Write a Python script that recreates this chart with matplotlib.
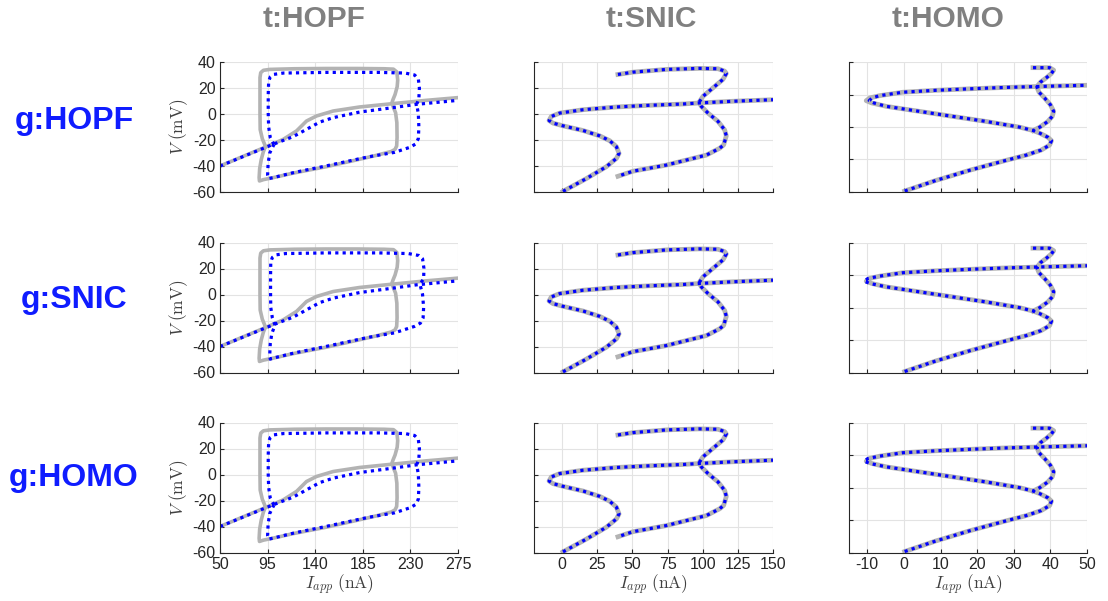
import matplotlib
matplotlib.use("Agg")
import matplotlib.pyplot as plt

plt.rcParams['font.family'] = ['Liberation Sans', 'DejaVu Sans']
plt.rcParams['mathtext.fontset'] = 'cm'
plt.rcParams['axes.unicode_minus'] = False

# column / row names
col_titles = ['t:HOPF', 't:SNIC', 't:HOMO']
row_titles = ['g:HOPF', 'g:SNIC', 'g:HOMO']

# --- t:HOPF column (I_app in nA, V in mV) ---
hopf_eq_gray_x = [50, 94, 109.8, 122.4, 131.8, 141.3, 157, 182, 213.6, 245, 275]
hopf_eq_gray_y = [-40, -25.1, -19.5, -13, -5.4, -1.5, 2.3, 5.4, 8, 10.5, 12.6]
hopf_cyc_gray_x = [93, 90, 88, 87.8, 87.8, 87.8, 88.5, 91, 97, 120, 150, 180, 205, 214, 217.2,
                   218, 217.5, 215.5, 213.5, 212.5, 214, 216, 217.2, 217.4, 217, 215.5, 212,
                   197.9, 182, 150.7, 119, 100, 91, 87.3, 87, 87.5, 89, 91, 93]
hopf_cyc_gray_y = [-25, -19, -12, 0, 15, 28, 31.8, 33.6, 34.3, 34.8, 35, 35, 34.8, 34.5, 32.3,
                   26, 21, 15, 11, 8.5, 5, 1, -6.7, -18, -24.6, -27.2, -28.8,
                   -31.8, -34.8, -40.5, -45.5, -49, -50.5, -51.5, -49, -42, -35, -29, -25]
hopf_eq_blue_x = [50, 100.3, 119.2, 131.8, 144.4, 157, 182, 213.6, 235.6, 275]
hopf_eq_blue_y = [-40, -23.3, -17.4, -11.8, -6.2, -2.8, 1.5, 4.9, 7.4, 10.5]
hopf_cyc_blue1_x = [101, 97.5, 96, 95.6, 95.6, 96, 97.5, 101, 110, 150, 200, 225, 234, 237.5,
                    238.5, 238, 236, 237.5, 238, 237.5, 235, 230, 215, 190, 150, 120, 100,
                    96, 95, 95.5, 97, 101]
hopf_cyc_blue1_y = [-23.5, -18, -10, 0, 15, 25, 28.5, 30.5, 31.5, 32, 32, 31.5, 30, 27,
                    20, 12, 7.5, 0, -10, -19, -23, -25.5, -29.5, -33, -40, -45, -49,
                    -49.7, -47, -38, -30, -23.5]
hopf_cyc_blue2_x = [102, 99.5, 98, 97.8, 97.8, 98, 99.5, 103, 112, 150, 200, 228, 238, 241.5,
                    242.8, 242.5, 239, 241.5, 242.5, 242, 239.5, 234, 215, 190, 150, 120, 100,
                    97.5, 97, 97.5, 99, 102]
hopf_cyc_blue2_y = [-23.5, -18, -10, 0, 15, 25, 28.5, 30.5, 31.5, 32, 32, 31.5, 30, 27.5,
                    20, 12, 8, 0, -10, -18, -22, -24.5, -29.5, -33, -40, -45, -49,
                    -49.7, -47, -38, -30, -23.5]

# --- t:SNIC column ---
snic_eq_x = [0.6, 17.2, 31.4, 38.6, 40.5, 38.6, 33.8, 26.7, 14.9, 0.6, -6.5, -9.3, -7.7,
             -1.7, 14.9, 38.6, 62.3, 86, 97.8, 121.5, 150]
snic_eq_y = [-59.5, -49.7, -40.6, -34.2, -30.3, -25.1, -20.5, -16.8, -12.7, -9.1, -7, -5, -1.9,
             0.7, 3.3, 5.4, 6.7, 7.7, 8.5, 9.8, 11]
snic_cyc_x = [39.7, 50.4, 74.1, 97.8, 110.9, 115.6, 116.8, 114.4, 107.3, 100.2, 97.4, 99,
              103.8, 110.9, 115.6, 116.8, 114.9, 112, 102.6, 74.1, 50.4, 39.7]
snic_cyc_y = [30.4, 32.2, 34.3, 35.1, 34.8, 33, 31.2, 26.6, 20.1, 13.6, 9, 5.9,
              0.7, -5.7, -12.2, -16.8, -23.8, -26.4, -31.6, -39.3, -44, -47.9]

# --- t:HOMO column ---
homo_eq_y = [-59.4, -52.8, -46.6, -41, -37.3, -34.2, -31.1, -28.4, -26.3, -23.8, -22.2, -20.1,
             -16.6, -13.5, -10.4, -7.3, -5.2, -3.8, -2.1, -0.7, 1.4, 2.6, 3.5, 4.3, 4.9, 5.7]
homo_eq_gray_x = [0.2, 8.85, 18, 27.1, 33.4, 37.5, 39.8, 40.3, 39.3, 37.1, 35.3, 31.6,
                  22.5, 13.4, 4.3, -4.8, -8.8, -10.3, -9.3, -6.6, -0.3, 8.85, 18, 27.1, 36.2, 50]
homo_eq_blue1_x = [0.2, 8.85, 18, 27.1, 33.4, 37.5, 39.8, 40.3, 39.3, 37.1, 35.3, 31.6,
                   22.5, 13.4, 4.3, -4.8, -8.2, -9.5, -8.7, -6.6, -0.3, 8.85, 18, 27.1, 36.2, 50]
homo_eq_blue2_x = [0.2, 8.85, 18, 27.1, 33.4, 37.5, 39.8, 40.3, 39.3, 37.1, 35.3, 31.6,
                   22.5, 13.4, 4.3, -4.8, -9.3, -10.9, -9.8, -6.6, -0.3, 8.85, 18, 27.1, 36.2, 50]
homo_cyc_x = [35.25, 39.8, 40.9, 40.3, 38.9, 37.3, 36.3, 36.9, 38.4, 40, 40.9, 40.5, 39.3,
              37.1, 35.3]
homo_cyc_y = [16.5, 16.5, 15, 13, 10.3, 7.6, 4.7, 1.4, -2.1, -6.3, -10.4, -13.5, -16.6,
              -20.1, -22.2]

# axis settings per column
xlims = [(50, 275), (-20, 150), (-15, 50)]
xticks = [[50, 95, 140, 185, 230, 275], [0, 25, 50, 75, 100, 125, 150],
          [-10, 0, 10, 20, 30, 40, 50]]
ylims = [(-60, 40), (-60, 40), (-60, 20)]
yticks = [[-60, -40, -20, 0, 20, 40], [-60, -40, -20, 0, 20, 40], [-60, -40, -20, 0, 20]]

gray_c = '#b3b3b3'
blue_c = '#0000ff'
W, H = 1108, 601

fig = plt.figure(figsize=(W / 100, H / 100), dpi=100)

col_left = [220, 534, 849]
col_w = [238, 239, 238]
row_top = [62, 242.5, 422.5]
ax_h = 130

for r in range(3):
    for c in range(3):
        ax = fig.add_axes([col_left[c] / W, 1 - (row_top[r] + ax_h) / H, col_w[c] / W, ax_h / H])
        if c == 0:
            ax.plot(hopf_eq_gray_x, hopf_eq_gray_y, color=gray_c, lw=2.6, solid_capstyle='round')
            ax.plot(hopf_cyc_gray_x, hopf_cyc_gray_y, color=gray_c, lw=2.6,
                    solid_joinstyle='round')
            bx, by = (hopf_cyc_blue2_x, hopf_cyc_blue2_y) if r == 1 else (hopf_cyc_blue1_x, hopf_cyc_blue1_y)
            ax.plot(hopf_eq_blue_x, hopf_eq_blue_y, color=blue_c, lw=2.3, dashes=(1, 1.3))
            ax.plot(bx, by, color=blue_c, lw=2.3, dashes=(1, 1.3))
        elif c == 1:
            ax.plot(snic_eq_x, snic_eq_y, color=gray_c, lw=3.4)
            ax.plot(snic_cyc_x, snic_cyc_y, color=gray_c, lw=3.4)
            ax.plot(snic_eq_x, snic_eq_y, color=blue_c, lw=2.3, dashes=(1, 1.3))
            ax.plot(snic_cyc_x, snic_cyc_y, color=blue_c, lw=2.3, dashes=(1, 1.3))
        else:
            ax.plot(homo_eq_gray_x, homo_eq_y, color=gray_c, lw=3.4)
            ax.plot(homo_cyc_x, homo_cyc_y, color=gray_c, lw=3.4)
            ex = homo_eq_blue1_x if r == 0 else homo_eq_blue2_x
            ax.plot(ex, homo_eq_y, color=blue_c, lw=2.3, dashes=(1, 1.3))
            ax.plot(homo_cyc_x, homo_cyc_y, color=blue_c, lw=2.3, dashes=(1, 1.3))

        ax.set_xlim(xlims[c])
        ax.set_ylim(ylims[c])
        ax.set_xticks(xticks[c])
        ax.set_yticks(yticks[c])
        ax.grid(True, color='#e3e3e3', lw=0.8)
        ax.set_axisbelow(True)
        for s in ['top', 'right']:
            ax.spines[s].set_visible(False)
        for s in ['left', 'bottom']:
            ax.spines[s].set_color('#262626')
            ax.spines[s].set_linewidth(0.8)
        ax.tick_params(direction='in', length=3, width=0.8, color='#262626',
                       labelsize=11.5, labelcolor='#262626', pad=3)
        if c != 0:
            ax.set_yticklabels([])
        else:
            ax.set_ylabel(r'$V\ \mathrm{(mV)}$', fontsize=12.5, color='#404040', labelpad=2)
        if r != 2:
            ax.set_xticklabels([])
        else:
            ax.set_xlabel(r'$I_{app}\ \mathrm{(nA)}$', fontsize=12.5, color='#404040', labelpad=1)

# column titles and row labels
title_x = [314, 651, 948]
for c in range(3):
    fig.text(title_x[c] / W, 1 - 19 / H, col_titles[c], ha='center', va='center',
             fontsize=21.5, fontweight='bold', color='#808080')
label_y = [121, 300, 478]
for r in range(3):
    fig.text(74 / W, 1 - label_y[r] / H, row_titles[r], ha='center', va='center',
             fontsize=23, fontweight='bold', color='#0f1cff')

fig.savefig('out.png', dpi=100)
